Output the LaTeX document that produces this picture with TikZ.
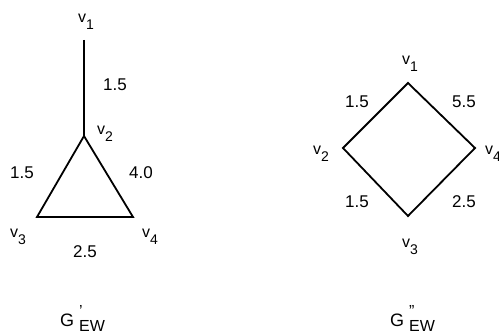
\documentclass[tikz,border=0pt]{standalone}
\usepackage{fontspec}
\setmainfont{Liberation Sans}
\newcommand{\vlab}[1]{v\raisebox{-6.5pt}{\fontsize{14}{14}\selectfont #1}}
\newcommand{\glab}[1]{G\hspace{5pt}\rlap{\raisebox{10pt}{\fontsize{16}{16}\selectfont #1}}\raisebox{-5pt}{\fontsize{16}{16}\selectfont EW}}

\begin{document}
\begin{tikzpicture}[x=1pt, y=-1pt,
  vlabel/.style={inner sep=0pt, anchor=base west, font=\fontsize{16}{16}\selectfont},
  wlabel/.style={inner sep=0pt, anchor=base west, font=\fontsize{17}{17}\selectfont},
  glabel/.style={inner sep=0pt, anchor=base west, font=\fontsize{18}{18}\selectfont},
  edge/.style={line width=1.8pt, line join=miter}
]
\useasboundingbox (0,0) rectangle (499,334);

% left graph
\coordinate (a1) at (84,40);
\coordinate (a2) at (84,136);
\coordinate (a3) at (37,217);
\coordinate (a4) at (133,217);

\draw[edge] (a1) -- (a2);
\draw[edge] (a2) -- (a3) -- (a4) -- cycle;

\node[vlabel] (la1) at (78,23) {\vlab{1}};
\node[vlabel] (la2) at (97,135) {\vlab{2}};
\node[vlabel] (la3) at (10,238) {\vlab{3}};
\node[vlabel] (la4) at (142,238) {\vlab{4}};

\node[wlabel] (wa12) at (103,91) {1.5};
\node[wlabel] (wa23) at (10,179) {1.5};
\node[wlabel] (wa24) at (129,179) {4.0};
\node[wlabel] (wa34) at (73,258) {2.5};

\node[glabel] (ga) at (60,327) {\glab{'}};

% right graph
\coordinate (b1) at (408,83);
\coordinate (b2) at (343,148);
\coordinate (b3) at (408,216);
\coordinate (b4) at (475,148);

\draw[edge] (b1) -- (b2) -- (b3) -- (b4) -- cycle;

\node[vlabel] (lb1) at (402,65) {\vlab{1}};
\node[vlabel] (lb2) at (313,155) {\vlab{2}};
\node[vlabel] (lb3) at (402,248) {\vlab{3}};
\node[vlabel] (lb4) at (485,155) {\vlab{4}};

\node[wlabel] (wb12) at (345,108) {1.5};
\node[wlabel] (wb14) at (452,108) {5.5};
\node[wlabel] (wb23) at (345,208) {1.5};
\node[wlabel] (wb34) at (452,208) {2.5};

\node[glabel] (gb) at (390,327) {\glab{"}};
\end{tikzpicture}
\end{document}
